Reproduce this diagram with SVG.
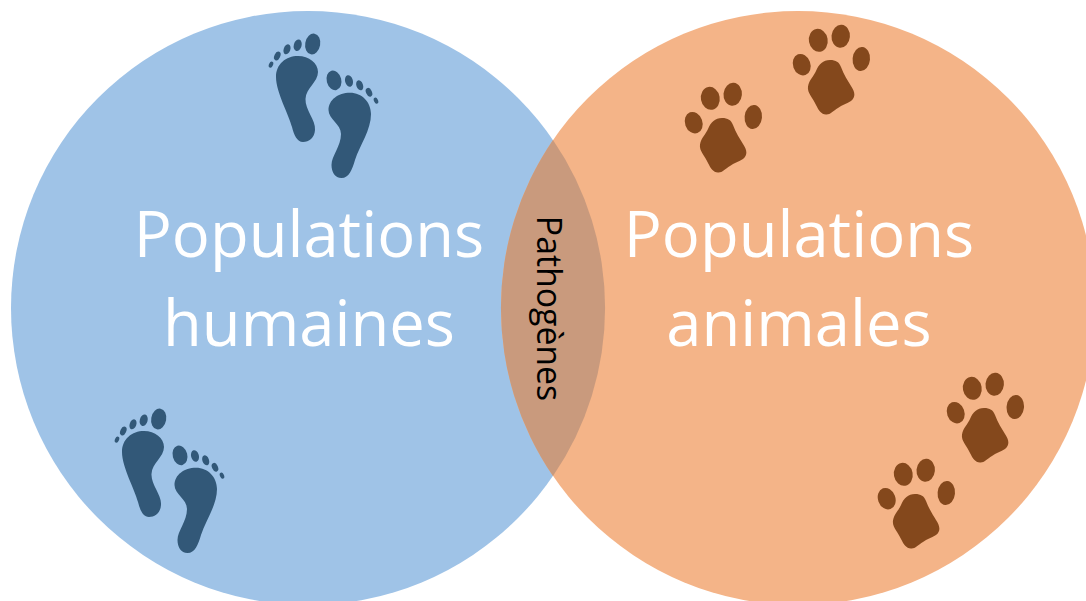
<svg xmlns="http://www.w3.org/2000/svg" width="1086" height="601" viewBox="0 0 1086 601">
<style>
.big{font-family:"Open Sans","Noto Sans",sans-serif;font-size:63.300px;fill:#fff;text-anchor:middle}
.small{font-family:"Open Sans","Noto Sans",sans-serif;font-size:33.800px;fill:#000;text-anchor:middle}
.foot{fill:#325878}
.paw{fill:#84481c}
</style>
<defs>
<g id="feet" class="foot">
<ellipse cx="312.700" cy="44" rx="7.500" ry="10.500" transform="rotate(10 312.700 44)"/>
<ellipse cx="297.700" cy="45.300" rx="3.900" ry="5.900" transform="rotate(15 297.700 45.300)"/>
<ellipse cx="287" cy="49.300" rx="3.300" ry="5.200" transform="rotate(20 287 49.300)"/>
<ellipse cx="277.300" cy="56" rx="2.900" ry="4.600" transform="rotate(25 277.300 56)"/>
<ellipse cx="271" cy="64.700" rx="2" ry="3.200" transform="rotate(25 271 64.700)"/>
<path d="M298 56C309 56 318 63 318 72C318 82 306 88 305.500 99C305 110 316 120 315 130C314.500 138 309 142 303 142C297 142 294 135 292 127C289 115 276 92 276 77C276 64 286 56 298 56Z"/>
<ellipse cx="334" cy="80.300" rx="7.300" ry="10" transform="rotate(-15 334 80.300)"/>
<ellipse cx="349" cy="81" rx="3.900" ry="5.900" transform="rotate(-15 349 81)"/>
<ellipse cx="359.700" cy="85.300" rx="3.300" ry="5.200" transform="rotate(-20 359.700 85.300)"/>
<ellipse cx="369" cy="92.300" rx="2.900" ry="4.600" transform="rotate(-25 369 92.300)"/>
<ellipse cx="376" cy="100.700" rx="2" ry="3.200" transform="rotate(-25 376 100.700)"/>
<path d="M350 92.700C362 92.700 371 102 371 114C371 130 360 145 355 160C352 170 349 178 341.500 178C335 178 331.500 172 331.500 165C331.500 156 341 146 341 134C341 124 328.500 119 328.500 110C328.500 100 338 92.700 350 92.700Z"/>
</g>
<g id="pawprint" class="paw">
<ellipse cx="818.300" cy="40.300" rx="9.400" ry="11.500" transform="rotate(-10 818.300 40.300)"/>
<ellipse cx="840.700" cy="36.300" rx="9.200" ry="11.500" transform="rotate(5 840.700 36.300)"/>
<ellipse cx="861.300" cy="59" rx="8.700" ry="12" transform="rotate(5 861.300 59)"/>
<ellipse cx="801.700" cy="64.700" rx="8.700" ry="11" transform="rotate(-20 801.700 64.700)"/>
<path d="M830 60C836 60 839 62 841 67C844 75 848 81 851 86C855 92 856 97 851 101C846 104 842 105 838 108C833 111 830 115 826 114.500C821 114 819 111 816 105C813 98 807 93 808 86.500C809 80 814 76 816 71C819 64 823 60 830 60Z"/>
</g>
</defs>
<rect width="1086" height="601" fill="#fff"/>
<g id="human-circle"><circle cx="308" cy="308" r="297" fill="#9fc3e7"/></g>
<g id="animal-circle"><circle cx="798" cy="308" r="297" fill="#f4b488"/></g>
<g id="overlap"><path d="M553 140A297 297 0 0 1 553 476A297 297 0 0 1 553 140Z" fill="#c99a7d"/></g>
<g id="footprints">
<use href="#feet"/>
<use href="#feet" transform="translate(-154 375)"/>
</g>
<g id="pawprints">
<use href="#pawprint"/>
<use href="#pawprint" transform="translate(-108 58)"/>
<use href="#pawprint" transform="translate(154 348)"/>
<use href="#pawprint" transform="translate(85 434)"/>
</g>
<g id="label-human">
<text class="big" x="309" y="257">Populations</text>
<text class="big" x="309" y="346">humaines</text>
</g>
<g id="label-animal">
<text class="big" x="799" y="257">Populations</text>
<text class="big" x="799" y="346">animales</text>
</g>
<g id="label-pathogens"><text class="small" transform="translate(537 308.500) rotate(90)">Pathogènes</text></g>
</svg>
